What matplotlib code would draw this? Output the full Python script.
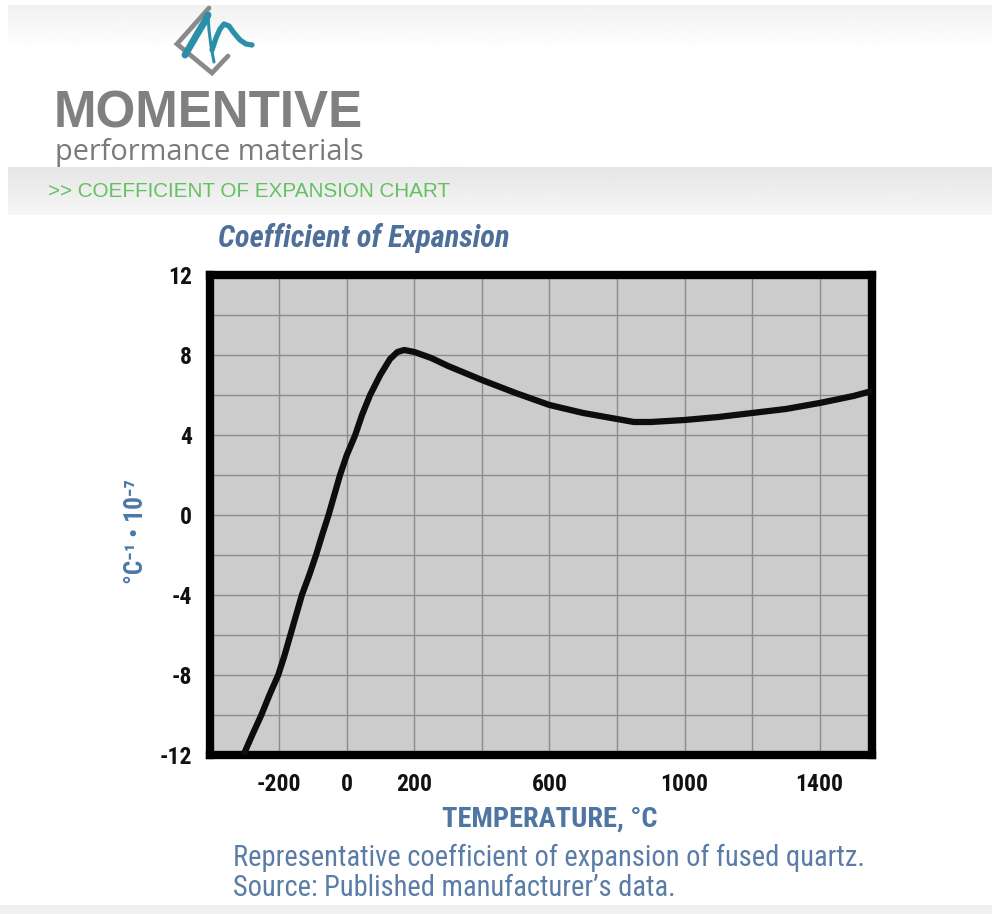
import matplotlib
matplotlib.use("Agg")
import matplotlib.pyplot as plt
from matplotlib import font_manager
import numpy as np

# fused quartz expansion coefficient, read per temperature
temp_c = [-306, -280, -253, -229, -203, -184, -167, -150, -133, -111, -91,
          -73, -54, -37, -20, 0, 25, 45, 69, 99, 128, 150, 170, 200, 250,
          300, 400, 500, 600, 700, 800, 850, 900, 1000, 1100, 1200, 1300,
          1400, 1500, 1555]
coef = [-12.0, -11.0, -10.0, -9.0, -8.0, -7.0, -6.0, -5.0, -4.0, -3.0, -2.0,
        -1.0, 0.0, 1.0, 2.0, 3.0, 4.0, 5.0, 6.0, 7.0, 7.8, 8.15, 8.25, 8.15,
        7.85, 7.45, 6.75, 6.1, 5.5, 5.1, 4.8, 4.65, 4.65, 4.75, 4.9, 5.1,
        5.3, 5.6, 5.95, 6.2]

x_grid = [-200, 0, 200, 400, 600, 800, 1000, 1200, 1400]
x_labels = ["-200", "0", "200", "", "600", "", "1000", "", "1400"]
y_ticks = [-12, -8, -4, 0, 4, 8, 12]
y_labels = ["-12", "-8", "-4", "0", "4", "8", "12"]
y_minor = [-10, -6, -2, 2, 6, 10]


def pick(names):
    have = {f.name for f in font_manager.fontManager.ttflist}
    for n in names:
        if n in have:
            return n
    return "DejaVu Sans"


narrow = pick(["Roboto Condensed", "Liberation Sans Narrow", "Roboto", "DejaVu Sans"])
plain = pick(["Liberation Sans", "DejaVu Sans"])
NARROW = [narrow, "DejaVu Sans"]

W, H = 992, 914
fig = plt.figure(figsize=(W / 100, H / 100), dpi=100)
fig.patch.set_facecolor("white")
renderer = fig.canvas.get_renderer()


def fit(t, px, vertical=False):
    # scale a text so its extent spans px pixels
    bb = t.get_window_extent(renderer)
    size = bb.height if vertical else bb.width
    t.set_fontsize(t.get_fontsize() * px / size)
    return t


# page furniture drawn in pixel coordinates
bg = fig.add_axes([0, 0, 1, 1], zorder=0)
bg.axis("off")

top = np.linspace(0.945, 1.0, 50).reshape(-1, 1)
bg.imshow(top, extent=[8, W, 50, 5], cmap="gray", vmin=0, vmax=1, aspect="auto")
band = np.linspace(0.9, 0.965, 50).reshape(-1, 1)
bg.imshow(band, extent=[8, W, 215, 167], cmap="gray", vmin=0, vmax=1, aspect="auto")
bg.axhspan(905, H, color="#f1f1f1", lw=0)
bg.set_xlim(0, W)
bg.set_ylim(H, 0)

# logo: grey diamond with a teal wave
bg.plot([209, 177, 212, 228], [8, 44, 73, 56], color="#8a8a8a", lw=3.4,
        solid_capstyle="round", solid_joinstyle="miter")
bg.plot([185, 192, 199, 205, 208], [55, 43, 31, 21, 15], color="#2a90aa", lw=5,
        solid_capstyle="round")
bg.plot([208, 209, 211, 214], [15, 30, 46, 62], color="#2a90aa", lw=2.2,
        solid_capstyle="round")
bg.plot([212, 216, 220, 224, 229, 234, 240, 246, 252],
        [50, 38, 29, 24, 26, 33, 40, 44, 45],
        color="#2a90aa", lw=3.8, solid_capstyle="round", solid_joinstyle="round")

t = bg.text(54, 127, "MOMENTIVE", fontsize=36, fontweight="bold", color="#808080",
            family=plain, va="baseline")
fit(t, 310)
t = bg.text(55, 160, "performance materials", fontsize=20, color="#7a7a7a",
            family=["Open Sans", plain], va="baseline")
fit(t, 308)
t = bg.text(48, 197, ">> COEFFICIENT OF EXPANSION CHART", fontsize=13, color="#62c262",
            family=plain, va="baseline")
fit(t, 400)

t = bg.text(218, 247, "Coefficient of Expansion", fontsize=18, fontweight="bold",
            style="italic", color="#4e6f99", family=NARROW, va="baseline")
fit(t, 292)
t = bg.text(550, 819, "TEMPERATURE, °C", fontsize=19, fontweight="bold",
            color="#4f76a3", family=NARROW, ha="center", va="center")
fit(t, 215)
cap1 = bg.text(233, 866, "Representative coefficient of expansion of fused quartz.",
               fontsize=19, color="#5a7ca6", family=NARROW, va="baseline")
fit(cap1, 632)
bg.text(233, 896, "Source: Published manufacturer’s data.",
        fontsize=cap1.get_fontsize(), color="#5a7ca6", family=NARROW, va="baseline")
t = bg.text(136, 531, "°C⁻¹ • 10⁻⁷", fontsize=15, fontweight="bold", color="#4a78aa",
            family=NARROW, rotation=90, ha="center", va="center")
fit(t, 105, vertical=True)

# chart
ax = fig.add_axes([210 / W, (H - 755) / H, 662 / W, 480 / H], zorder=2)
ax.set_facecolor("#cccccc")
ax.plot(temp_c, coef, color="#0d0d0d", lw=4.5, solid_joinstyle="round",
        solid_capstyle="butt", zorder=3)

tick_font = dict(family=NARROW, fontweight="bold", fontsize=17, color="#111111")
ax.set_xlim(-405, 1555)
ax.set_ylim(-12, 12)
ax.set_xticks(x_grid)
ax.set_xticklabels(x_labels, **tick_font)
ax.set_yticks(y_ticks)
ax.set_yticklabels(y_labels, **tick_font)
ax.set_yticks(y_minor, minor=True)
ax.grid(True, which="both", color="#8c8c8c", lw=1.0)
ax.set_axisbelow(True)
ax.tick_params(which="both", length=0)
ax.tick_params(axis="y", pad=13)
ax.tick_params(axis="x", pad=13)
for s in ax.spines.values():
    s.set_linewidth(6)
    s.set_color("black")

fig.savefig("out.png", dpi=100, facecolor="white")
